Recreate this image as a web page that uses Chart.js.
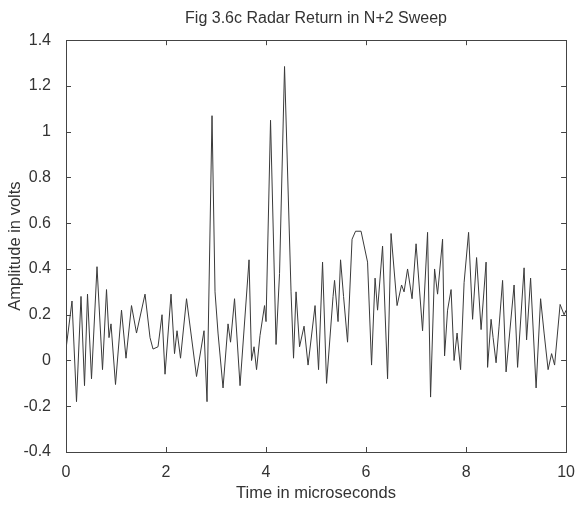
<!DOCTYPE html>
<html>
<head>
<meta charset="utf-8">
<script src="https://cdn.jsdelivr.net/npm/chart.js@4.4.1/dist/chart.umd.min.js"></script>
<style>
  html, body { margin: 0; padding: 0; background: #fff; }
  #radar { display: block; }
</style>
</head>
<body>
<canvas id="radar" width="578" height="510"></canvas>
<script>
// time in microseconds (turning points)
var times = [0.00,0.12,0.21,0.30,0.37,0.43,0.51,0.62,0.73,0.81,0.86,0.90,0.99,1.11,1.20,1.31,1.41,1.58,1.68,1.74,1.84,1.92,1.98,
  2.10,2.17,2.22,2.29,2.41,2.61,2.76,2.82,2.92,2.98,3.04,3.14,3.24,3.29,3.37,3.48,3.66,3.71,3.76,3.81,3.88,3.97,
  4.00,4.09,4.20,4.27,4.37,4.50,4.55,4.60,4.67,4.76,4.84,4.98,5.05,5.13,5.21,5.34,5.37,5.44,5.49,5.55,5.63,5.72,5.79,5.90,
  6.03,6.11,6.18,6.23,6.33,6.43,6.50,6.62,6.71,6.76,6.83,6.92,7.00,7.13,7.23,7.29,7.37,7.43,7.53,7.57,7.63,7.70,7.76,7.82,7.89,7.96,
  8.05,8.13,8.21,8.30,8.40,8.43,8.50,8.54,8.60,8.66,8.73,8.80,8.96,9.03,9.16,9.21,9.29,9.40,9.49,9.56,9.64,9.71,9.77,9.88,9.96,10.00];
// amplitude in volts
var amplitude = [0.05,0.26,-0.18,0.28,-0.11,0.29,-0.08,0.41,-0.04,0.31,0.10,0.16,-0.105,0.22,0.01,0.24,0.12,0.29,0.10,0.05,0.06,0.20,-0.06,
  0.29,0.03,0.13,0.01,0.27,-0.07,0.13,-0.18,1.07,0.30,0.12,-0.12,0.16,0.08,0.27,-0.11,0.44,0.00,0.06,-0.04,0.11,0.24,
  0.17,1.05,0.07,0.38,1.285,0.30,0.01,0.30,0.06,0.15,-0.02,0.24,-0.04,0.43,-0.10,0.28,0.35,0.17,0.44,0.28,0.08,0.53,0.565,0.565,
  0.43,-0.02,0.36,0.22,0.50,-0.08,0.555,0.24,0.33,0.30,0.40,0.27,0.51,0.13,0.56,-0.16,0.40,0.29,0.53,0.02,0.22,0.31,0.00,0.12,-0.04,0.34,
  0.56,0.18,0.45,0.135,0.43,-0.03,0.18,0.10,-0.01,0.15,0.35,-0.05,0.33,-0.03,0.405,0.09,0.36,-0.12,0.27,0.12,-0.04,0.03,-0.02,0.245,0.20,0.22];

var xTicks = [0, 2, 4, 6, 8, 10];
var xTickLabels = ['0', '2', '4', '6', '8', '10'];
var yTicks = [-0.4, -0.2, 0, 0.2, 0.4, 0.6, 0.8, 1, 1.2, 1.4];
var yTickLabels = ['-0.4', '-0.2', '0', '0.2', '0.4', '0.6', '0.8', '1', '1.2', '1.4'];

var ink = '#333';
var fam = '"Liberation Sans", Arial, sans-serif';

// matlab-like box with inward ticks on all four sides
var boxTicks = {
  id: 'boxTicks',
  afterDatasetsDraw: function(chart) {
    var ctx = chart.ctx, a = chart.chartArea;
    var xs = chart.scales.x, ys = chart.scales.y;
    var len = 5;
    ctx.save();
    ctx.strokeStyle = '#444';
    ctx.lineWidth = 1;
    ctx.strokeRect(Math.round(a.left) + 0.5, Math.round(a.top) + 0.5,
      Math.round(a.right - a.left), Math.round(a.bottom - a.top));
    ctx.beginPath();
    xTicks.forEach(function(t) {
      var px = Math.round(xs.getPixelForValue(t)) + 0.5;
      ctx.moveTo(px, a.bottom); ctx.lineTo(px, a.bottom - len);
      ctx.moveTo(px, a.top); ctx.lineTo(px, a.top + len);
    });
    yTicks.forEach(function(t) {
      var py = Math.round(ys.getPixelForValue(t)) + 0.5;
      ctx.moveTo(a.left, py); ctx.lineTo(a.left + len, py);
      ctx.moveTo(a.right, py); ctx.lineTo(a.right - len, py);
    });
    ctx.stroke();
    ctx.restore();
  }
};

new Chart(document.getElementById('radar'), {
  type: 'line',
  data: {
    datasets: [{
      data: times.map(function(t, i) { return { x: t, y: amplitude[i] }; }),
      borderColor: '#3a3a3a',
      borderWidth: 1,
      pointRadius: 0,
      tension: 0,
      fill: false
    }]
  },
  options: {
    responsive: false,
    animation: false,
    layout: { padding: { left: 0, right: 11, top: 0, bottom: 0 } },
    plugins: {
      legend: { display: false },
      tooltip: { enabled: false },
      title: {
        display: true,
        text: 'Fig 3.6c Radar Return in N+2 Sweep',
        fullSize: false,
        color: ink,
        font: { family: fam, size: 16, weight: 'normal' },
        padding: { top: 9, bottom: 12 }
      }
    },
    scales: {
      x: {
        type: 'linear',
        min: 0,
        max: 10,
        afterBuildTicks: function(s) { s.ticks = xTicks.map(function(v) { return { value: v }; }); },
        afterFit: function(s) { s.height = 58; },
        grid: { display: false },
        border: { display: false },
        ticks: {
          color: ink,
          padding: 3,
          maxRotation: 0,
          font: { family: fam, size: 16 },
          callback: function(v, i) { return xTickLabels[i]; }
        },
        title: {
          display: true,
          text: 'Time in microseconds',
          color: ink,
          font: { family: fam, size: 16.5 },
          padding: { top: 0, bottom: 7 }
        }
      },
      y: {
        min: -0.4,
        max: 1.4,
        afterBuildTicks: function(s) { s.ticks = yTicks.map(function(v) { return { value: v }; }); },
        afterFit: function(s) { s.width = 66; },
        grid: { display: false },
        border: { display: false },
        ticks: {
          color: ink,
          padding: 7,
          font: { family: fam, size: 16 },
          callback: function(v, i) { return yTickLabels[i]; }
        },
        title: {
          display: true,
          text: 'Amplitude in volts',
          color: ink,
          font: { family: fam, size: 16.5 },
          padding: { top: 6, bottom: 0 }
        }
      }
    }
  },
  plugins: [boxTicks]
});
</script>
</body>
</html>
